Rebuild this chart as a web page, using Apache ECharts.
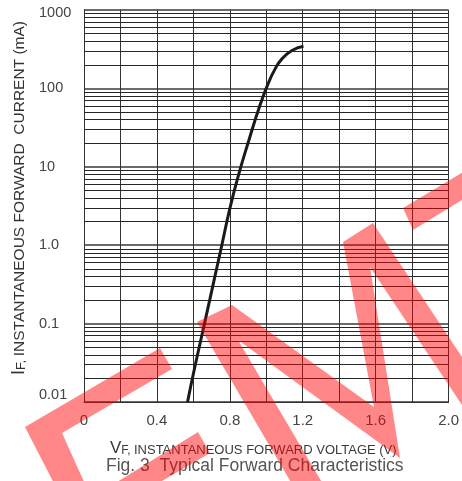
<!DOCTYPE html>
<html>
<head>
<meta charset="utf-8">
<style>
  html, body { margin: 0; padding: 0; background: #ffffff; }
  #chart { width: 462px; height: 481px; }
</style>
<script src="https://cdn.jsdelivr.net/npm/echarts@6/dist/echarts.min.js"></script>
</head>
<body>
<div id="chart"></div>
<script>
// ---- data ----
var voltage = [0.568, 0.605, 0.661, 0.756, 0.801, 0.850, 0.905, 0.959, 1.010, 1.050, 1.086, 1.141, 1.204];
var currentMA = [0.010, 0.026, 0.10, 1.0, 3.0, 8.2, 22, 55, 115, 180, 238, 305, 345];

// ---- axis ticks ----
var xTickValues = [0, 0.4, 0.8, 1.2, 1.6, 2.0];
var xTickLabels = ['0', '0.4', '0.8', '1.2', '1.6', '2.0'];
var yTickValues = [0.01, 0.1, 1, 10, 100, 1000];
var yTickLabels = ['0.01', '0.1', '1.0', '10', '100', '1000'];
var decadeStarts = [0.01, 0.1, 1, 10, 100];
var minorFactors = [2, 3, 4, 5, 6, 7, 8, 9];

var FONT = 'Liberation Sans, Arial, Helvetica, sans-serif';

var curveData = voltage.map(function (v, i) { return [v, currentMA[i]]; });
var minorLines = [];
decadeStarts.forEach(function (d) {
  minorFactors.forEach(function (m) { minorLines.push({ yAxis: d * m }); });
});

var chart = echarts.init(document.getElementById('chart'), null, { renderer: 'canvas' });

chart.setOption({
  animation: false,
  backgroundColor: '#ffffff',
  title: {
    text: 'Fig. 3  Typical Forward Characteristics',
    left: 106,
    top: 457,
    padding: 0,
    textStyle: { fontFamily: FONT, fontSize: 17.5, fontWeight: 'normal', color: '#555555' }
  },
  grid: { left: 84, right: 11, top: 10, bottom: 79 },
  xAxis: {
    type: 'value',
    min: 0,
    max: 2.0,
    interval: 0.2,
    name: '{v|V}{s|F, }{c|INSTANTANEOUS FORWARD VOLTAGE (V)}',
    nameLocation: 'middle',
    nameGap: 38,
    nameTextStyle: {
      padding: [0, 26, 0, 0],
      rich: {
        v: { fontFamily: FONT, fontSize: 17, color: '#3a3a3a', verticalAlign: 'bottom' },
        s: { fontFamily: FONT, fontSize: 12, color: '#3a3a3a', verticalAlign: 'bottom' },
        c: { fontFamily: FONT, fontSize: 13, color: '#3a3a3a', verticalAlign: 'bottom' }
      }
    },
    axisLine: { show: true, onZero: false, lineStyle: { color: '#333333', width: 1 } },
    axisTick: { show: false },
    axisLabel: {
      margin: 11,
      fontFamily: FONT,
      fontSize: 15,
      color: '#444444',
      formatter: function (v) {
        for (var i = 0; i < xTickValues.length; i++) {
          if (Math.abs(v - xTickValues[i]) < 1e-6) return xTickLabels[i];
        }
        return '';
      }
    },
    splitLine: { show: true, lineStyle: { color: '#333333', width: 1 } }
  },
  yAxis: {
    type: 'log',
    logBase: 10,
    min: 0.01,
    max: 1000,
    name: '{i|I}{s|F, }{c|INSTANTANEOUS FORWARD  CURRENT (mA)}',
    nameLocation: 'middle',
    nameGap: 56,
    nameTextStyle: {
      padding: [0, 0, 0, 16],
      rich: {
        i: { fontFamily: FONT, fontSize: 18, color: '#333333', verticalAlign: 'bottom' },
        s: { fontFamily: FONT, fontSize: 13, color: '#333333', verticalAlign: 'bottom' },
        c: { fontFamily: FONT, fontSize: 15.5, color: '#333333', verticalAlign: 'bottom' }
      }
    },
    axisLine: { show: true, lineStyle: { color: '#333333', width: 1 } },
    axisTick: { show: false },
    axisLabel: {
      margin: 45,
      align: 'left',
      fontFamily: FONT,
      fontSize: 14.5,
      color: '#444444',
      formatter: function (v) {
        var k = Math.round(Math.log10(v));
        for (var i = 0; i < yTickValues.length; i++) {
          if (Math.round(Math.log10(yTickValues[i])) === k) {
            if (i === 0) return '{b|' + yTickLabels[i] + '}';
            if (i === yTickValues.length - 1) return '{t|' + yTickLabels[i] + '}';
            return yTickLabels[i];
          }
        }
        return '';
      },
      rich: {
        b: { fontFamily: FONT, fontSize: 14.5, color: '#444444', padding: [0, 0, 14, 0] },
        t: { fontFamily: FONT, fontSize: 14.5, color: '#444444', padding: [5, 0, 0, 0] }
      }
    },
    splitLine: { show: true, lineStyle: { color: '#6a6a6a', width: 2 } }
  },
  series: [
    {
      type: 'line',
      name: 'grid',
      data: [],
      silent: true,
      z: 1,
      markLine: {
        silent: true,
        symbol: ['none', 'none'],
        label: { show: false },
        emphasis: { disabled: true },
        lineStyle: { type: 'solid', color: '#262626', width: 1 },
        data: minorLines
      }
    },
    {
      type: 'line',
      name: 'IF',
      data: curveData,
      smooth: 0.5,
      showSymbol: false,
      symbol: 'none',
      z: 5,
      lineStyle: { color: '#1a1a1a', width: 3 }
    }
  ],
  graphic: [
    {
      type: 'group',
      z: 100,
      silent: true,
      children: [
        { type: 'polygon', z: 100, shape: { points: [[160, 348], [172, 369], [62, 433], [90, 495], [60, 495], [25, 427]] }, style: { fill: 'rgba(255,0,0,0.47)' } },
        { type: 'polygon', z: 100, shape: { points: [[198, 432], [210, 453], [138, 495], [96, 495]] }, style: { fill: 'rgba(255,0,0,0.47)' } },
        { type: 'polygon', z: 100, shape: { points: [[197, 322], [232, 305], [374, 407], [343, 242], [373, 223], [490, 399], [490, 447], [370, 267], [400, 458], [238, 340], [330, 496], [299, 496]] }, style: { fill: 'rgba(255,0,0,0.47)' } },
        { type: 'polygon', z: 100, shape: { points: [[403, 208], [490, 156], [490, 183], [413, 230]] }, style: { fill: 'rgba(255,0,0,0.47)' } }
      ]
    }
  ]
});
</script>
</body>
</html>
